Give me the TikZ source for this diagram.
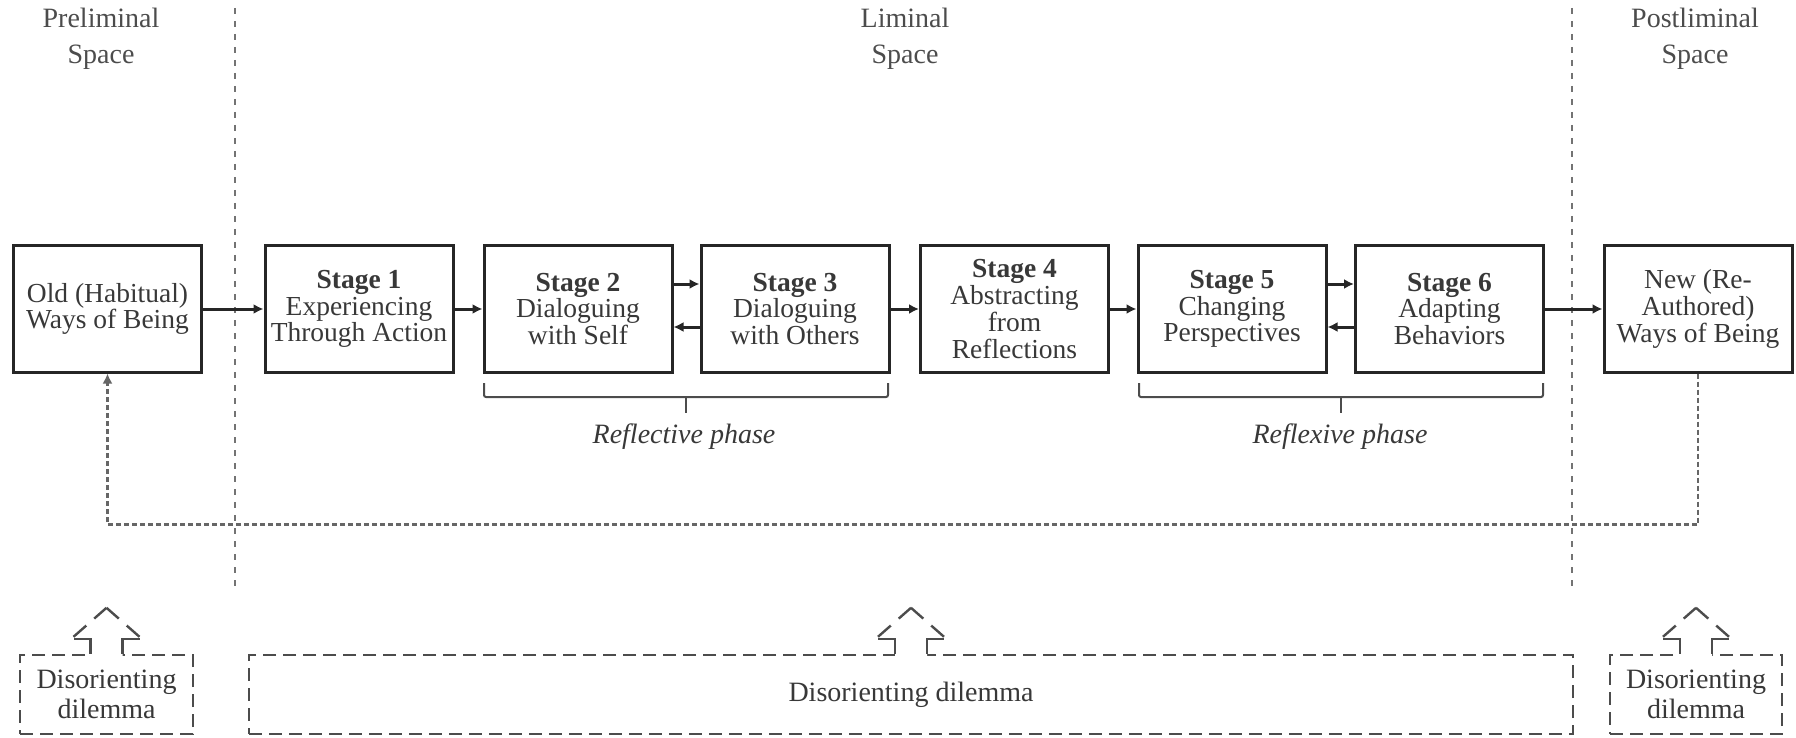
\documentclass[tikz,border=0pt]{standalone}
\usepackage{fontspec}
\setmainfont{Liberation Serif}
\usetikzlibrary{arrows.meta}
\definecolor{txt}{gray}{0.22}
\definecolor{lne}{gray}{0.15}
\newcommand\bxfont{\fontsize{13.75}{13.4}\selectfont}
\newcommand\lbfont{\fontsize{14}{18}\selectfont}
\newcommand\dlfont{\fontsize{14}{15}\selectfont}
\begin{document}
\begin{tikzpicture}[x=0.5pt,y=-0.5pt,
  box/.style={draw=lne, line width=1.5pt, minimum width=94pt, minimum height=63pt,
    inner sep=0pt, align=center, text=txt, font=\bxfont},
  arr/.style={draw=lne, line width=1.5pt, -{Latex[length=5pt,width=5pt]}},
  sep/.style={draw=black!55, line width=1pt, dash pattern=on 3pt off 3.5pt},
  fb/.style={draw=black!60, line width=1.3pt, dash pattern=on 2.5pt off 1.5pt,
    -{Latex[length=5pt,width=5pt]}},
  brace/.style={draw=black!70, line width=1pt, rounded corners=1pt},
  phase/.style={text=txt, font=\lbfont\itshape, inner sep=0pt},
  toplabel/.style={text=black!70, font=\lbfont, align=center, inner sep=0pt},
  dbox/.style={draw=black!70, line width=1.2pt, dash pattern=on 6.5pt off 3.5pt,
    fill=white, minimum height=39.5pt, inner sep=0pt, align=center, text=txt, font=\dlfont},
  dilhook/.style={draw=black!70, line width=1.2pt},
  dildiag/.style={draw=black!70, line width=1.2pt, dash pattern=on 8.5pt off 5.3pt},
  uparrow/.pic={
    \fill[white] (-16,3) -- (-16,-15) -- (-33,-15) -- (0,-45) -- (33,-15) -- (16,-15) -- (16,3) -- cycle;
    \draw[dilhook] (-16,0) -- (-16,-15) -- (-33,-15);
    \draw[dilhook] (16,0) -- (16,-15) -- (33,-15);
    \draw[dildiag] (-33,-17) -- (0,-46);
    \draw[dildiag] (33,-17) -- (0,-46);
  }
]
\useasboundingbox (0,0) rectangle (1796,738);

% space labels
\node[toplabel] (tl1) at (101,39) {Preliminal\\Space};
\node[toplabel] (tl2) at (905,39) {Liminal\\Space};
\node[toplabel] (tl3) at (1695,39) {Postliminal\\Space};

% separators
\draw[sep] (235,8) -- (235,593);
\draw[sep] (1572,8) -- (1572,593);

% boxes
\node[box] (old) at (107.5,309) {Old (Habitual)\\Ways of Being};
\node[box] (s1) at (359,309) {\textbf{Stage 1}\\Experiencing\\Through Action};
\node[box] (s2) at (578,309) {\textbf{Stage 2}\\Dialoguing\\with Self};
\node[box] (s3) at (795,309) {\textbf{Stage 3}\\Dialoguing\\with Others};
\node[box] (s4) at (1014.5,309) {\textbf{Stage 4}\\Abstracting\\from\\Reflections};
\node[box] (s5) at (1232,309) {\textbf{Stage 5}\\Changing\\Perspectives};
\node[box] (s6) at (1449.5,309) {\textbf{Stage 6}\\Adapting\\Behaviors};
\node[box] (new) at (1698,309) {New (Re-\\Authored)\\Ways of Being};

% arrows
\draw[arr] (old.east) -- (s1.west);
\draw[arr] (s1.east) -- (s2.west);
\draw[arr] ([yshift=12.5pt]s2.east) -- ([yshift=12.5pt]s3.west);
\draw[arr] ([yshift=-9pt]s3.west) -- ([yshift=-9pt]s2.east);
\draw[arr] (s3.east) -- (s4.west);
\draw[arr] (s4.east) -- (s5.west);
\draw[arr] ([yshift=12.5pt]s5.east) -- ([yshift=12.5pt]s6.west);
\draw[arr] ([yshift=-9pt]s6.west) -- ([yshift=-9pt]s5.east);
\draw[arr] (s6.east) -- (new.west);

% feedback loop
\draw[fb] (new.south) -- ++(0,151) -| (old.south);

% braces
\draw[brace] (484,383) -- (484,397) -- (888,397) -- (888,383);
\draw[brace] (686,397) -- (686,413);
\draw[brace] (1139,383) -- (1139,397) -- (1543,397) -- (1543,383);
\draw[brace] (1341,397) -- (1341,413);
\node[phase] (p1) at (684,437) {Reflective phase};
\node[phase] (p2) at (1340,437) {Reflexive phase};

% disorienting dilemmas
\node[dbox, minimum width=86.5pt] (d1) at (106.5,694.5) {Disorienting\\dilemma};
\node[dbox, minimum width=662pt] (d2) at (911,694.5) {Disorienting dilemma};
\node[dbox, minimum width=86pt] (d3) at (1696,694.5) {Disorienting\\dilemma};
\pic at (d1.north) {uparrow};
\pic at (d2.north) {uparrow};
\pic at (d3.north) {uparrow};
\end{tikzpicture}
\end{document}
